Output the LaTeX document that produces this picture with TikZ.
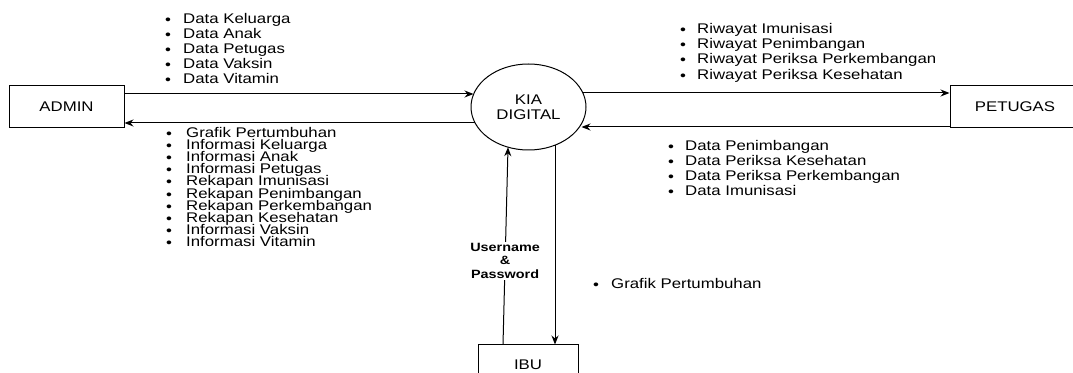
\documentclass[tikz,border=0pt]{standalone}
\usepackage{fontspec}
\setmainfont[FakeStretch=1.2]{Liberation Sans}
\usetikzlibrary{arrows.meta,calc,shapes.geometric}
\newcommand{\tls}{\setlength{\lineskiplimit}{-100pt}}
\newcommand{\bt}[1]{\makebox[#1][l]{\fontsize{14}{14}\selectfont\raisebox{-1pt}{•}}}
\begin{document}
\begin{tikzpicture}[x=1pt,y=1pt,
  box/.style={draw,line width=1pt,inner sep=0pt,font=\fontsize{14}{15}\selectfont},
  flow/.style={line width=1pt,-{Stealth[length=9pt,width=7pt]}},
  lst/.style={align=left,anchor=north west,inner sep=0pt}]
\useasboundingbox (0,0) rectangle (1073,372);

% entities
\node[box,minimum width=115pt,minimum height=42pt] (admin) at (66.5,265) {ADMIN};
\node[box,minimum width=130pt,minimum height=42pt] (pet) at (1015,265) {PETUGAS};
\node[box,minimum width=100pt,minimum height=40pt] (ibu) at (528,7) {IBU};
\node[draw,line width=1pt,ellipse,minimum width=115pt,minimum height=86pt,inner sep=0pt,
      align=center,font=\fontsize{14}{15}\selectfont] (kia) at (528.5,265) {KIA\\DIGITAL};

% flows
\draw[flow] ($(admin.east)+(0,13)$) -- ($(kia.center)+(-55,13)$);
\draw[flow] ($(kia.center)+(-53.4,-16)$) -- ($(admin.east)+(0,-16)$);
\draw[flow] ($(kia.center)+(54.4,14)$) -- ($(pet.west)+(0,14)$);
\draw[flow] ($(pet.west)+(0,-20)$) -- ($(kia.center)+(53,-20)$);
\draw[flow] ($(ibu.north)+(-25,0)$) -- ($(kia.center)+(-20.5,-40.2)$)
  node[pos=0.424,fill=white,inner sep=1pt,align=center,
       font=\fontsize{12}{13.5}\selectfont\bfseries] (up) {Username\\\&\\Password};
\draw[flow] ($(kia.center)+(26.5,-38.2)$) -- ($(ibu.north)+(27,0)$);

% data lists
\node[lst,font=\fontsize{14}{15}\selectfont\tls] (l1) at (165,359)
  {\bt{18pt}Data Keluarga\\\bt{18pt}Data Anak\\\bt{18pt}Data Petugas\\\bt{18pt}Data Vaksin\\\bt{18pt}Data Vitamin};
\node[lst,font=\fontsize{14}{12.2}\selectfont\tls] (l2) at (166,245.3)
  {\bt{20pt}Grafik Pertumbuhan\\\bt{20pt}Informasi Keluarga\\\bt{20pt}Informasi Anak\\\bt{20pt}Informasi Petugas\\
   \bt{20pt}Rekapan Imunisasi\\\bt{20pt}Rekapan Penimbangan\\\bt{20pt}Rekapan Perkembangan\\
   \bt{20pt}Rekapan Kesehatan\\\bt{20pt}Informasi Vaksin\\\bt{20pt}Informasi Vitamin};
\node[lst,font=\fontsize{14}{15.4}\selectfont\tls] (l3) at (680,349.3)
  {\bt{17pt}Riwayat Imunisasi\\\bt{17pt}Riwayat Penimbangan\\\bt{17pt}Riwayat Periksa Perkembangan\\\bt{17pt}Riwayat Periksa Kesehatan};
\node[lst,font=\fontsize{14}{15}\selectfont\tls] (l4) at (668,232)
  {\bt{17pt}Data Penimbangan\\\bt{17pt}Data Periksa Kesehatan\\\bt{17pt}Data Periksa Perkembangan\\\bt{17pt}Data Imunisasi};
\node[lst,font=\fontsize{14}{15}\selectfont] (l5) at (593,94)
  {\bt{18pt}Grafik Pertumbuhan};
\end{tikzpicture}
\end{document}
